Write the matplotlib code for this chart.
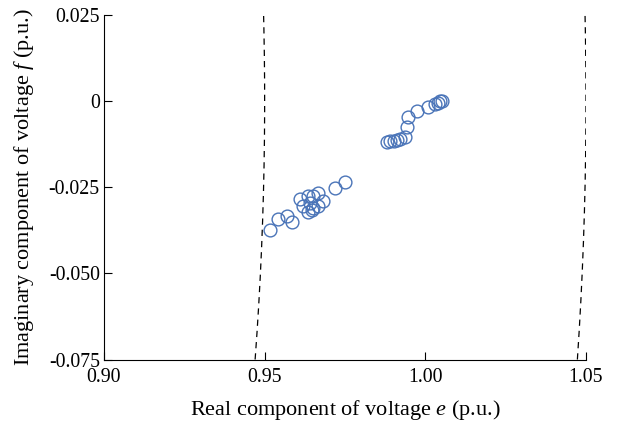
import numpy as np
import matplotlib
matplotlib.use("Agg")
import matplotlib.pyplot as plt

plt.rcParams['font.family'] = ['Liberation Serif', 'DejaVu Serif']
plt.rcParams['mathtext.fontset'] = 'custom'
plt.rcParams['mathtext.it'] = 'Liberation Serif:italic'
plt.rcParams['mathtext.rm'] = 'Liberation Serif'

# voltage samples (real part e, imaginary part f), p.u.
e_vals = [0.9517, 0.9542, 0.9570, 0.9586, 0.9611, 0.9620, 0.9636, 0.9642,
          0.9636, 0.9648, 0.9651, 0.9651, 0.9667, 0.9667, 0.9682, 0.9719,
          0.9750,
          0.9881, 0.9890, 0.9901, 0.9911, 0.9921, 0.9937, 0.9942, 0.9947,
          0.9973, 1.0009, 1.0030, 1.0040, 1.0046, 1.0051]
f_vals = [-0.0375, -0.0341, -0.0332, -0.0352, -0.0283, -0.0303, -0.0274, -0.0297,
          -0.0323, -0.0317, -0.0309, -0.0274, -0.0268, -0.0303, -0.0291, -0.0251,
          -0.0236,
          -0.0119, -0.0117, -0.0115, -0.0113, -0.0110, -0.0105, -0.0076, -0.0047,
          -0.0028, -0.0018, -0.0008, -0.0004, -0.0001, 0.0001]

# voltage magnitude limits (p.u.)
v_limits = [0.95, 1.05]

x_ticks = [0.90, 0.95, 1.00, 1.05]
x_ticklabels = ['0.90', '0.95', '1.00', '1.05']
y_ticks = [0.025, 0.0, -0.025, -0.050, -0.075]
y_ticklabels = ['0.025', '0', '-0.025', '-0.050', '-0.075']

fig = plt.figure(figsize=(6.26, 4.25), dpi=100)
ax = fig.add_axes([0.1661, 0.1541, 0.7700, 0.8106])

f_line = np.linspace(-0.075, 0.025, 200)
for r in v_limits:
    ax.plot(np.sqrt(r**2 - f_line**2), f_line, color='black', lw=0.9,
            ls=(0, (5, 4)))

ax.plot(e_vals, f_vals, ls='none', marker='o', markersize=9.2,
        markerfacecolor='none', markeredgecolor='#4a74b8', markeredgewidth=1.0)

ax.set_xlim(0.90, 1.05)
ax.set_ylim(-0.075, 0.025)
ax.set_xticks(x_ticks)
ax.set_xticklabels(x_ticklabels)
ax.set_yticks(y_ticks)
ax.set_yticklabels(y_ticklabels)
ax.tick_params(direction='in', length=6, width=0.8, labelsize=14.3)
ax.tick_params(axis='x', pad=6)
ax.tick_params(axis='y', pad=3)
for s in ['top', 'right']:
    ax.spines[s].set_visible(False)
for s in ['left', 'bottom']:
    ax.spines[s].set_linewidth(0.8)

ax.set_xlabel(r'Real component of voltage $e$ (p.u.)', fontsize=16, labelpad=8)
ax.set_ylabel(r'Imaginary component of voltage $f$ (p.u.)', fontsize=16, labelpad=9)

fig.savefig('out.png', dpi=100)
